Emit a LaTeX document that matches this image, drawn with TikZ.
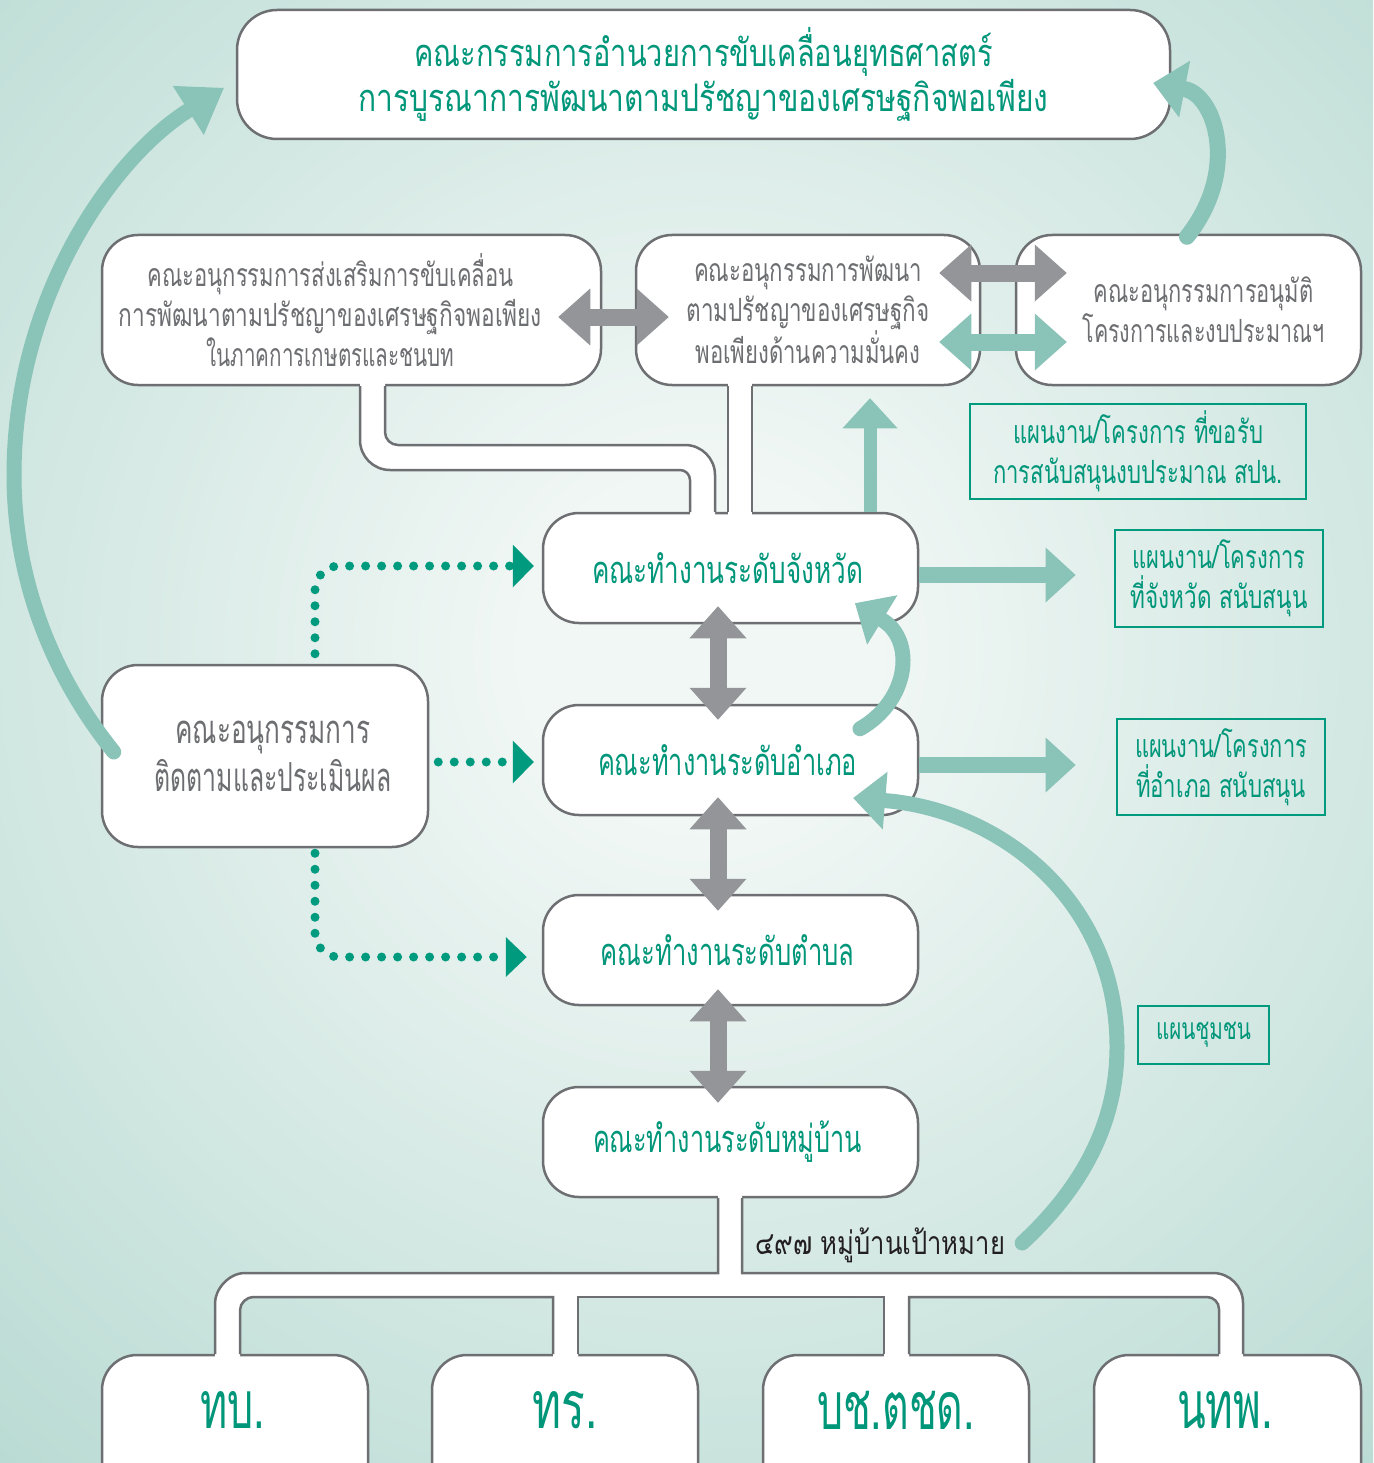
\documentclass[tikz,border=0pt]{standalone}
\usepackage{fontspec}
\setmainfont[Script=Thai]{Loma}
\usepackage{graphicx}
\usetikzlibrary{arrows.meta,calc}
\definecolor{bgin}{RGB}{241,247,245}
\definecolor{bgout}{RGB}{164,208,198}
\definecolor{tealtxt}{RGB}{0,150,122}
\definecolor{teallite}{RGB}{138,195,183}
\definecolor{arrgray}{RGB}{147,149,152}
\definecolor{boxline}{RGB}{110,111,114}
\definecolor{graytxt}{RGB}{109,110,113}
\definecolor{darktxt}{RGB}{35,31,32}
\definecolor{dotteal}{RGB}{0,154,126}
\pgfdeclareradialshading{bgsh}{\pgfpoint{0bp}{0bp}}{color(0bp)=(bgin); color(5bp)=(bgin); color(42bp)=(bgout); color(70bp)=(bgout)}
\newcommand\fl[2]{\resizebox{#1pt}{\height}{#2}}
\newcommand\lsh[3]{\hbox{\fl{#2}{#3}\kern#1pt}}% text shifted left by half of #1
\newcommand\rsh[3]{\hbox{\kern#1pt\fl{#2}{#3}}}% text shifted right by half of #1
\begin{document}
\begin{tikzpicture}[x=1pt,y=-1pt,
  box/.style={draw=boxline, line width=2.5pt, fill=white, rounded corners=36pt, inner sep=0pt, align=center},
  boxpath/.style={draw=boxline, line width=2.5pt, fill=white, rounded corners=35pt},
  gbox/.style={draw=dotteal, line width=2.8pt, inner sep=0pt, align=center, text=tealtxt},
  pipefill/.style={fill=white, draw=none},
  pipewall/.style={draw=boxline, line width=2.5pt},
  topf/.style={font={\fontsize{38}{45}\selectfont}},
  subf/.style={font={\fontsize{32}{40}\selectfont}},
  levf/.style={font={\fontsize{38}{45}\selectfont}},
  monf/.style={font={\fontsize{40}{48}\selectfont}},
  grf/.style={font={\fontsize{32}{40}\selectfont}},
  botf/.style={font={\fontsize{66}{70}\selectfont}, text=tealtxt, inner sep=0pt},
  garr/.style={draw=arrgray, line width=17pt, arrows={Triangle[length=32pt,width=57pt,line width=0pt]-Triangle[length=32pt,width=57pt,line width=0pt]}},
  tdbl/.style={draw=teallite, line width=17pt, arrows={Triangle[length=32pt,width=57pt,line width=0pt]-Triangle[length=32pt,width=57pt,line width=0pt]}},
  tarr/.style={draw=teallite, line width=15pt, arrows={-Triangle[length=30pt,width=55pt,line width=0pt]}},
  carr/.style={draw=teallite, line width=15pt, line cap=round, arrows={-Triangle[length=32pt,width=58pt,line width=0pt]}},
  dotarr/.style={draw=dotteal, line width=9pt, line cap=round, dash pattern=on 0pt off 16pt, rounded corners=24pt, arrows={-Triangle[length=21pt,width=43pt,line width=0pt]}}
]
\useasboundingbox (0,0) rectangle (1373,1463);
\clip (0,0) rectangle (1373,1463);
\shade[shading=bgsh] (-150,-200) rectangle (1550,1500);

% main boxes
\node[box, rounded corners=40pt, minimum width=933pt, minimum height=129pt, text=tealtxt, topf] (top) at (703.5,74.5)
  {\fl{578}{คณะกรรมการอำนวยการขับเคลื่อนยุทธศาสตร์}\\\fl{690}{การบูรณาการพัฒนาตามปรัชญาของเศรษฐกิจพอเพียง}};
\node[box, minimum width=499pt, minimum height=150pt, text=graytxt, subf] (s1) at (351.5,310)
  {\lsh{42}{366}{คณะอนุกรรมการส่งเสริมการขับเคลื่อน}\\\lsh{42}{423}{การพัฒนาตามปรัชญาของเศรษฐกิจพอเพียง}\\\lsh{42}{248}{ในภาคการเกษตรและชนบท}};
\node[box, minimum width=344pt, minimum height=150pt, text=graytxt, subf] (s2) at (808,310)
  {\fl{228}{คณะอนุกรรมการพัฒนา}\\\fl{243}{ตามปรัชญาของเศรษฐกิจ}\\\fl{225}{พอเพียงด้านความมั่นคง}};
\node[box, minimum width=345pt, minimum height=150pt, text=graytxt, subf] (s3) at (1188.5,310)
  {\rsh{30}{220}{คณะอนุกรรมการอนุมัติ}\\\rsh{30}{242}{โครงการและงบประมาณฯ}};
\node[box, minimum width=375pt, minimum height=110pt, text=tealtxt, levf] (prov) at (730.5,568) {\lsh{6}{271}{คณะทำงานระดับจังหวัด}};
\node[box, minimum width=375pt, minimum height=110pt, text=tealtxt, levf] (amph) at (730.5,760) {\lsh{6}{259}{คณะทำงานระดับอำเภอ}};
\node[box, minimum width=375pt, minimum height=110pt, text=tealtxt, levf] (tamb) at (730.5,950) {\lsh{6}{254}{คณะทำงานระดับตำบล}};
\node[box, minimum width=375pt, minimum height=110pt, text=tealtxt, levf] (vill) at (730.5,1142) {\lsh{6}{269}{คณะทำงานระดับหมู่บ้าน}};
\node[box, minimum width=326pt, minimum height=182pt, text=graytxt, monf] (mon) at (265,756)
  {\rsh{16}{195}{คณะอนุกรรมการ}\\\rsh{16}{237}{ติดตามและประเมินผล}};

% bottom boxes (run off the lower edge)
\path[boxpath] (102,1355) rectangle (368,1520);
\path[boxpath] (432,1355) rectangle (698,1520);
\path[boxpath] (763,1355) rectangle (1029,1520);
\path[boxpath] (1094,1355) rectangle (1361,1520);
\node[botf] (b1) at (232.5,1410) {\fl{65}{ทบ.}};
\node[botf] (b2) at (565,1410) {\fl{65}{ทร.}};
\node[botf] (b3) at (896,1410) {\fl{158}{บช.ตชด.}};
\node[botf] (b4) at (1225,1410) {\fl{96}{นทพ.}};

% green boxes
\node[gbox, minimum width=336pt, minimum height=95pt, grf] (g1) at (1138,451.5)
  {\fl{250}{แผนงาน/โครงการ ที่ขอรับ}\\\fl{290}{การสนับสนุนงบประมาณ สปน.}};
\node[gbox, minimum width=208pt, minimum height=97pt, grf] (g2) at (1219,578.5)
  {\fl{173}{แผนงาน/โครงการ}\\\fl{177}{ที่จังหวัด สนับสนุน}};
\node[gbox, minimum width=208pt, minimum height=96pt, grf] (g3) at (1221,767)
  {\fl{172}{แผนงาน/โครงการ}\\\fl{170}{ที่อำเภอ สนับสนุน}};
\node[gbox, minimum width=131pt, minimum height=58pt, font={\fontsize{30}{36}\selectfont}] (g4) at (1203.5,1035)
  {\fl{95}{แผนชุมชน}};

\node[text=darktxt, inner sep=0pt, font={\fontsize{32}{40}\selectfont}] (vl) at (880,1245) {\fl{250}{๔๙๗ หมู่บ้านเป้าหมาย}};

% pipes: sub1 -> province
\path[pipefill] (360,381) -- (360,440) .. controls (360,456.6) and (373.4,470) .. (390,470) -- (680,470)
  .. controls (685.5,470) and (690,474.5) .. (690,480) -- (690,517) -- (715,517) -- (715,475)
  .. controls (715,458.4) and (701.6,445) .. (685,445) -- (398,445) .. controls (390.8,445) and (385,439.2) .. (385,432) -- (385,381) -- cycle;
\draw[pipewall] (360,386) -- (360,440) .. controls (360,456.6) and (373.4,470) .. (390,470) -- (680,470)
  .. controls (685.5,470) and (690,474.5) .. (690,480) -- (690,512);
\draw[pipewall] (385,386) -- (385,432) .. controls (385,439.2) and (390.8,445) .. (398,445) -- (685,445)
  .. controls (701.6,445) and (715,458.4) .. (715,475) -- (715,512);
% sub2 -> province
\path[pipefill] (728,381) rectangle (752,517);
\draw[pipewall] (728,386) -- (728,512);
\draw[pipewall] (752,386) -- (752,512);
% village -> bottom boxes
\path[pipefill] (718,1193) -- (718,1273) -- (245,1273) .. controls (228.4,1273) and (215,1289.6) .. (215,1303) -- (215,1359)
  -- (240,1359) -- (240,1310) .. controls (240,1302.8) and (247.2,1297) .. (253,1297) -- (553,1297) -- (553,1359)
  -- (578,1359) -- (578,1297) -- (884,1297) -- (884,1359) -- (909,1359) -- (909,1297) -- (1207,1297)
  .. controls (1213.6,1297) and (1219,1302.4) .. (1219,1309) -- (1219,1359) -- (1243,1359) -- (1243,1303)
  .. controls (1243,1286.4) and (1229.6,1273) .. (1213,1273) -- (742,1273) -- (742,1193) -- cycle;
\draw[pipewall] (718,1198) -- (718,1273) -- (245,1273) .. controls (228.4,1273) and (215,1289.6) .. (215,1303) -- (215,1354);
\draw[pipewall] (742,1198) -- (742,1273) -- (1213,1273) .. controls (1229.6,1273) and (1243,1286.4) .. (1243,1303) -- (1243,1354);
\draw[pipewall] (240,1354) -- (240,1310) .. controls (240,1302.8) and (247.2,1297) .. (253,1297) -- (553,1297) -- (553,1354);
\draw[pipewall] (578,1354) -- (578,1297) -- (884,1297) -- (884,1354);
\draw[pipewall] (909,1354) -- (909,1297) -- (1207,1297) .. controls (1213.6,1297) and (1219,1302.4) .. (1219,1309) -- (1219,1354);

% gray double arrows
\draw[garr] ($(s1.east)+(-44,7)$) -- ($(s2.west)+(34,7)$);
\draw[garr] ($(s2.east)+(-42,-37)$) -- ($(s3.west)+(52,-37)$);
\draw[tdbl] ($(s2.east)+(-42,32)$) -- ($(s3.west)+(52,32)$);
\draw[garr] ($(prov.south)+(-12.5,-18)$) -- ($(amph.north)+(-12.5,16)$);
\draw[garr] ($(amph.south)+(-12.5,-19)$) -- ($(tamb.north)+(-12.5,17)$);
\draw[garr] ($(tamb.south)+(-12.5,-17)$) -- ($(vill.north)+(-12.5,17)$);

% teal straight arrows
\draw[tarr, line width=13pt] ($(prov.north)+(139.5,0)$) -- ($(s2.south)+(62,12)$);
\draw[tarr, line width=16pt] ($(prov.east)+(0,7)$) -- ($(g2.west)+(-38,-3.5)$);
\draw[tarr, line width=16pt] ($(amph.east)+(0,5)$) -- ($(g3.west)+(-40,-2)$);

% curved arrows
\draw[carr, arrows={-Triangle[length=42pt,width=58pt,line width=0pt]}] ($(mon.west)+(13,-4)$) .. controls (40,660) and (14,560) .. (14,475)
  .. controls (14,300) and (110,160) .. ($(top.west)+(-12,13.5)$);
\draw[carr, line width=16pt] ($(s3.north)+(-1.5,3)$) .. controls (1240,170) and (1215,95) .. ($(top.east)+(-18,8.5)$);
\draw[carr] ($(amph.north)+(129.5,25)$) .. controls (910,700) and (915,640) .. ($(prov.south)+(124.5,-21)$);
\coordinate (vlend) at ($(vl.east)+(17,-2)$);
\draw[carr] (vlend) .. controls (1085,1185) and (1117,1120) .. (1117,1047)
  .. controls (1117,900) and (1000,810) .. ($(amph.east)+(-66,38)$);

% dotted arrows
\draw[dotarr] ($(mon.north)+(50,-10)$) |- ($(prov.west)+(-8,-2)$);
\draw[dotarr] ($(mon.east)+(9,6)$) -- ($(amph.west)+(-8,2)$);
\draw[dotarr, arrows={-Triangle[length=21pt,width=40pt,line width=0pt]}] ($(mon.south)+(50,5)$) |- ($(tamb.west)+(-15,7)$);
\end{tikzpicture}
\end{document}
